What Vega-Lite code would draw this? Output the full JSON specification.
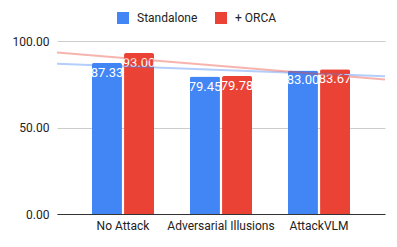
{
  "$schema": "https://vega.github.io/schema/vega-lite/v6.json",
  "autosize": "none",
  "width": 328,
  "height": 173,
  "padding": {"left": 57, "top": 41, "right": 12, "bottom": 33},
  "background": "white",
  "config": {
    "font": "Roboto",
    "view": {"stroke": null},
    "axis": {"labelFont": "Roboto", "labelFontSize": 12, "labelColor": "#222222", "titleFont": "Roboto"},
    "legend": {"labelFont": "Roboto"}
  },
  "data": {
    "values": [
      {"category": "No Attack", "series": "Standalone", "value": 87.33},
      {"category": "No Attack", "series": "+ ORCA", "value": 93.00},
      {"category": "Adversarial Illusions", "series": "Standalone", "value": 79.45},
      {"category": "Adversarial Illusions", "series": "+ ORCA", "value": 79.78},
      {"category": "AttackVLM", "series": "Standalone", "value": 83.00},
      {"category": "AttackVLM", "series": "+ ORCA", "value": 83.67}
    ]
  },
  "layer": [
    {
      "encoding": {
        "x": {
          "field": "category", "type": "nominal", "sort": null,
          "scale": {"paddingInner": 0.367, "paddingOuter": 0.357},
          "axis": {"title": null, "labelAngle": 0, "ticks": false, "labelPadding": 6, "domainColor": "#333333", "domainWidth": 1, "grid": false}
        },
        "xOffset": {"field": "series", "type": "nominal", "sort": ["Standalone", "+ ORCA"], "scale": {"paddingInner": 0.065}},
        "y": {
          "field": "value", "type": "quantitative",
          "scale": {"domain": [0, 100], "nice": false},
          "axis": {"title": null, "values": [0, 50, 100], "format": ".2f", "ticks": false, "domain": false, "labelPadding": 8, "gridColor": "#cccccc", "grid": true}
        }
      },
      "layer": [
        {
          "mark": {"type": "bar", "cornerRadiusTopLeft": 2, "cornerRadiusTopRight": 2},
          "encoding": {
            "color": {
              "field": "series", "type": "nominal", "sort": ["Standalone", "+ ORCA"],
              "scale": {"domain": ["Standalone", "+ ORCA"], "range": ["#4285F4", "#EA4335"]},
              "legend": {
                "title": null, "orient": "none", "direction": "horizontal",
                "legendX": 60, "legendY": -29,
                "symbolType": "square", "symbolSize": 144, "symbolStrokeWidth": 0,
                "labelFontSize": 12, "labelColor": "#222222", "labelOffset": 8, "columnPadding": 17
              }
            }
          }
        },
        {
          "mark": {"type": "text", "color": "white", "baseline": "top", "dy": 4, "fontSize": 13},
          "encoding": {
            "text": {"field": "value", "type": "quantitative", "format": ".2f"}
          }
        }
      ]
    },
    {
      "transform": [
        {"window": [{"op": "row_number", "as": "idx"}], "groupby": ["series"]},
        {"regression": "value", "on": "idx", "groupby": ["series"], "extent": [0.3265, 3.6735]}
      ],
      "mark": {"type": "line", "strokeWidth": 2, "opacity": 0.4},
      "encoding": {
        "x": {"field": "idx", "type": "quantitative", "scale": {"domain": [0.3265, 3.6735], "nice": false, "zero": false}, "axis": null},
        "y": {"field": "value", "type": "quantitative"},
        "stroke": {
          "field": "series", "type": "nominal",
          "scale": {"domain": ["Standalone", "+ ORCA"], "range": ["#4285F4", "#EA4335"]},
          "legend": null
        }
      }
    }
  ],
  "resolve": {"scale": {"x": "independent"}}
}
